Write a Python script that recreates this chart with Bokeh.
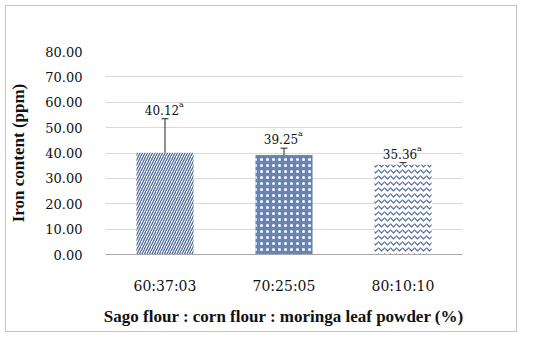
from bokeh.plotting import figure
from bokeh.models import ColumnDataSource, Whisker, TeeHead, FixedTicker, NumeralTickFormatter, FactorRange
from bokeh.core.properties import value
from bokeh.embed import file_html
from bokeh.resources import INLINE

categories = ["60:37:03", "70:25:05", "80:10:10"]
iron = [40.12, 39.25, 35.36]
err_upper = [53.5, 41.9, 36.2]
err_lower = [39.0, 38.2, 34.6]
letters = ["a", "a", "a"]
y_ticks = [0, 10, 20, 30, 40, 50, 60, 70, 80]

FONT = "Liberation Serif"
RFONT = "DejaVu Serif"
BLUE = "#4d6b9c"

p = figure(x_range=FactorRange(*categories, range_padding=0), y_range=(0, 80),
           width=512, height=327, output_backend="svg", toolbar_location=None,
           min_border_left=92, min_border_right=56, min_border_top=45, min_border_bottom=79)
p.styles = {"border": "1px solid #c4c4c4", "margin-left": "5px", "margin-top": "5px"}
p.outline_line_color = None
p.background_fill_color = "white"

src = ColumnDataSource(dict(cat=categories, val=iron, up=err_upper, lo=err_lower,
                            lab=[f"{v:.2f}" for v in iron], sup=letters))

fills = ["white", "#6a84b0", "white"]
hatches = ["right_diagonal_line", "dot", "horizontal_wave"]
hcolors = [BLUE, "white", BLUE]
hscales = [5, 6, 6]
hweights = [1.3, 1.2, 1.2]
for i, c in enumerate(categories):
    s = ColumnDataSource(dict(cat=[c], val=[iron[i]]))
    p.vbar(x="cat", top="val", width=0.48, source=s, fill_color=fills[i], line_color=None,
           hatch_pattern=hatches[i], hatch_color=hcolors[i], hatch_scale=hscales[i],
           hatch_weight=hweights[i])

w = Whisker(base="cat", upper="up", lower="lo", source=src, line_color="#222222", line_width=1,
            upper_head=TeeHead(size=7, line_color="#222222", line_width=1),
            lower_head=TeeHead(size=7, line_color="#222222", line_width=1))
p.add_layout(w)

p.text(x="cat", y="up", text="lab", source=src, text_font=value(RFONT), text_font_size="12px",
       text_align="center", text_baseline="bottom", x_offset=-3, y_offset=-4, text_color="#111111")
p.text(x="cat", y="up", text="sup", source=src, text_font=value(RFONT), text_font_size="8px",
       text_align="left", text_baseline="bottom", x_offset=14, y_offset=-10, text_color="#111111")

p.xgrid.grid_line_color = None
p.ygrid.grid_line_color = "#d9d9d9"
p.ygrid.grid_line_width = 1

p.yaxis.ticker = FixedTicker(ticks=y_ticks)
p.yaxis.formatter = NumeralTickFormatter(format="0.00")
p.yaxis.axis_line_color = None
p.yaxis.major_tick_line_color = None
p.yaxis.minor_tick_line_color = None
p.yaxis.major_label_standoff = 17
p.yaxis.axis_label = "Iron content (ppm)"
p.yaxis.axis_label_standoff = 14

p.xaxis.axis_line_color = "#a6a6a6"
p.xaxis.major_tick_line_color = None
p.xaxis.minor_tick_line_color = None
p.xaxis.major_label_standoff = 17
p.xaxis.axis_label = "Sago flour : corn flour : moringa leaf powder (%)"
p.xaxis.axis_label_standoff = 10

for ax in (p.xaxis[0], p.yaxis[0]):
    ax.major_label_text_color = "#111111"
    ax.major_label_text_font = RFONT
    ax.axis_label_text_font = FONT
    ax.axis_label_text_font_size = "17px"
    ax.axis_label_text_font_style = "bold"
    ax.axis_label_text_color = "#111111"
p.yaxis.major_label_text_font_size = "13px"
p.xaxis.major_label_text_font_size = "14px"

open("out.html", "w").write(file_html(p, INLINE))
